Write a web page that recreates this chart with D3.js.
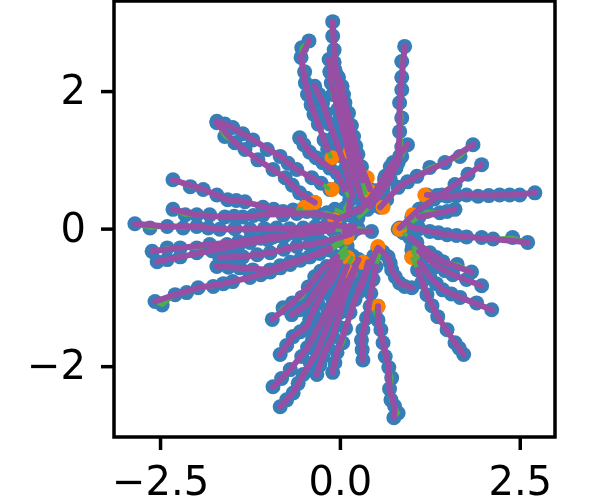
<!DOCTYPE html>
<html>
<head>
<meta charset="utf-8">
<script src="https://cdn.jsdelivr.net/npm/d3@7"></script>
<style>
  html, body { margin: 0; padding: 0; background: #fff; }
  #wrapper { width: 598px; height: 501px; filter: blur(0.7px); overflow: hidden; }
  svg { display: block; }
  text { font-family: "DejaVu Sans", sans-serif; }
</style>
</head>
<body>
<div id="wrapper"></div>
<script>
const xTicks = [-2.5, 0, 2.5]
const yTicks = [-2, 0, 2]

// where the trajectories start
const starts = [
    [-0.11, 0.57], [-0.35, 0.38], [-0.49, 0.31], [-0.07, 0.13], [0.10, -0.13], [0.11, -0.42],
    [0.32, -0.49], [0.53, -0.26], [0.38, 0.74], [0.14, 1.11], [-0.11, 1.03], [1.18, 0.49],
    [1.01, 0.20], [0.83, -0.01], [1.0, -0.42], [0.60, 0.31], [0.42, 0.54], [0.14, -0.63],
    [0.53, -1.13],
]

// one list per arm, outer tip first
const arms = [
    [[-0.10,3.01],[-0.10,2.80],[-0.08,2.60],[-0.08,2.42],[-0.05,2.24],[-0.03,2.02],[0.03,1.80],[0.06,1.60],[0.11,1.42],[0.14,1.22],[0.19,1.04],[0.25,0.88],[0.31,0.70],[0.36,0.49]],
    [[-0.43,2.73],[-0.53,2.63],[-0.54,2.49],[-0.49,2.28],[-0.48,2.12],[-0.45,1.95],[-0.40,1.80],[-0.36,1.66],[-0.30,1.52],[-0.22,1.29],[-0.17,1.15],[-0.12,1.02]],
    [[-0.35,2.07],[-0.29,1.95],[-0.24,1.83],[-0.20,1.68],[-0.14,1.52],[-0.07,1.35],[-0.03,1.20],[0.03,1.05],[0.08,0.88],[0.13,0.68],[0.17,0.49]],
    [[-0.15,2.46],[-0.14,2.28],[-0.12,2.12],[-0.10,1.95],[-0.03,1.73],[0,1.60],[0.04,1.45],[0.08,1.28],[0.12,1.10],[0.14,0.93],[0.21,0.71],[0.26,0.55],[0.31,0.42]],
    [[-0.07,2.31],[-0.02,2.20],[0.03,2.07],[0.05,1.95],[0.07,1.83],[0.12,1.68],[0.16,1.50],[0.19,1.34],[0.22,1.20],[0.25,1.08],[0.30,0.90],[0.36,0.72],[0.42,0.57]],
    [[-0.56,1.32],[-0.50,1.22],[-0.42,1.11],[-0.33,1.03],[-0.24,0.96],[-0.14,0.88],[-0.04,0.81],[0.02,0.68],[0.07,0.57],[0.14,0.42]],
    [[-1.71,1.56],[-1.60,1.52],[-1.49,1.47],[-1.35,1.38],[-1.21,1.29],[-1.01,1.15],[-0.83,1.05],[-0.72,0.95],[-0.60,0.86],[-0.39,0.74],[-0.26,0.66],[-0.14,0.57]],
    [[-1.71,1.54],[-1.60,1.34],[-1.46,1.25],[-1.32,1.15],[-1.14,1.00],[-0.93,0.86],[-0.76,0.74],[-0.66,0.63],[-0.56,0.52],[-0.46,0.44],[-0.35,0.38]],
    [[-2.32,0.71],[-2.08,0.61],[-1.90,0.57],[-1.71,0.49],[-1.56,0.42],[-1.44,0.41],[-1.32,0.39],[-1.07,0.31],[-0.92,0.28],[-0.79,0.25],[-0.65,0.27],[-0.51,0.29]],
    [[-2.32,0.28],[-2.15,0.20],[-1.99,0.20],[-1.81,0.20],[-1.60,0.17],[-1.47,0.18],[-1.35,0.17],[-1.20,0.19],[-1.07,0.20],[-0.79,0.20],[-0.60,0.22],[-0.46,0.25],[-0.32,0.22],[-0.18,0.23],[0,0.15]],
    [[-2.85,0.07],[-2.64,0.01],[-2.40,0.03],[-2.18,0.01],[-1.99,0.03],[-1.83,0.01],[-1.67,-0.01],[-1.46,0],[-1.25,-0.01],[-1.05,0],[-0.88,0.01],[-0.70,0],[-0.51,0.01],[-0.34,0.03],[-0.18,0.06],[0,0.04],[0.2,0.02]],
    [[-2.61,-0.33],[-2.40,-0.28],[-2.22,-0.28],[-1.99,-0.28],[-1.81,-0.23],[-1.57,-0.23],[-1.41,-0.19],[-1.25,-0.16],[-1.10,-0.14],[-0.93,-0.12],[-0.76,-0.10],[-0.60,-0.09],[-0.45,-0.07],[-0.32,-0.06],[-0.1,-0.02],[0.2,-0.02]],
    [[-2.54,-0.48],[-2.40,-0.45],[-2.22,-0.41],[-1.99,-0.35],[-1.78,-0.32],[-1.57,-0.28],[-1.41,-0.24],[-1.25,-0.20],[-1.0,-0.16],[-0.79,-0.12],[-0.55,-0.07],[-0.32,-0.01],[-0.1,0.02]],
    [[-1.71,-0.55],[-1.55,-0.56],[-1.39,-0.57],[-1.21,-0.60],[-0.97,-0.60],[-0.83,-0.54],[-0.69,-0.49],[-0.55,-0.45],[-0.42,-0.41],[-0.28,-0.36],[-0.14,-0.31],[0.05,-0.2]],
    [[-1.67,-0.42],[-1.5,-0.42],[-1.35,-0.41],[-1.15,-0.38],[-0.97,-0.35],[-0.78,-0.30],[-0.60,-0.26],[-0.42,-0.23],[-0.24,-0.20],[-0.05,-0.12],[0.15,-0.08]],
    [[-2.57,-1.06],[-2.47,-1.11],[-2.29,-0.96],[-2.13,-0.93],[-1.97,-0.86],[-1.76,-0.84],[-1.62,-0.80],[-1.49,-0.77],[-1.25,-0.71],[-1.1,-0.67],[-0.97,-0.63],[-0.83,-0.57],[-0.69,-0.52],[-0.55,-0.46],[-0.42,-0.41],[-0.28,-0.34],[-0.14,-0.28],[0.05,-0.15]],
    [[-0.94,-1.32],[-0.79,-1.15],[-0.66,-1.08],[-0.53,-1.00],[-0.44,-0.85],[-0.35,-0.70],[-0.27,-0.62],[-0.18,-0.55],[-0.04,-0.41],[0.1,-0.25]],
    [[-0.67,-1.25],[-0.56,-1.18],[-0.46,-1.11],[-0.39,-1.0],[-0.32,-0.89],[-0.25,-0.80],[-0.18,-0.70],[-0.11,-0.60],[-0.04,-0.49],[0.1,-0.3]],
    [[-0.83,-1.83],[-0.74,-1.70],[-0.65,-1.57],[-0.55,-1.50],[-0.46,-1.43],[-0.42,-1.32],[-0.38,-1.22],[-0.31,-1.08],[-0.24,-0.93],[-0.17,-0.84],[-0.10,-0.74],[-0.05,-0.62],[0,-0.49],[0.12,-0.35]],
    [[-0.93,-2.30],[-0.81,-2.18],[-0.69,-2.05],[-0.53,-1.86],[-0.45,-1.73],[-0.38,-1.61],[-0.31,-1.46],[-0.24,-1.32],[-0.17,-1.18],[-0.10,-1.03],[-0.03,-0.87],[0.04,-0.70],[0.1,-0.55],[0.18,-0.4]],
    [[-0.83,-2.59],[-0.74,-2.49],[-0.65,-2.39],[-0.58,-2.25],[-0.51,-2.12],[-0.41,-1.96],[-0.32,-1.80],[-0.25,-1.62],[-0.18,-1.43],[-0.11,-1.25],[-0.04,-1.08],[0.03,-0.93],[0.10,-0.79],[0.18,-0.62],[0.26,-0.45]],
    [[-0.32,-2.12],[-0.28,-1.99],[-0.24,-1.86],[-0.17,-1.71],[-0.10,-1.57],[-0.05,-1.40],[0,-1.22],[0.05,-1.05],[0.09,-0.90],[0.14,-0.74],[0.22,-0.58]],
    [[-0.10,-2.09],[-0.07,-1.95],[-0.04,-1.80],[0.04,-1.66],[0.08,-1.45],[0.14,-1.22],[0.21,-1.03],[0.26,-0.92],[0.32,-0.79],[0.36,-0.64],[0.39,-0.49]],
    [[0.32,-1.91],[0.31,-1.76],[0.30,-1.62],[0.32,-1.47],[0.37,-1.30],[0.42,-1.13],[0.43,-0.94],[0.46,-0.74],[0.50,-0.55],[0.56,-0.35]],
    [[0.75,-2.75],[0.81,-2.68],[0.76,-2.58],[0.71,-2.49],[0.69,-2.33],[0.72,-2.17],[0.68,-2.02],[0.63,-1.86],[0.60,-1.66],[0.57,-1.47],[0.53,-1.33],[0.49,-1.21],[0.53,-1.13]],
    [[1.0,-0.86],[0.90,-0.84],[0.83,-0.79],[0.77,-0.70],[0.72,-0.60],[0.70,-0.50],[0.67,-0.41],[0.60,-0.34],[0.53,-0.28]],
    [[1.72,-1.83],[1.66,-1.74],[1.60,-1.66],[1.49,-1.47],[1.36,-1.28],[1.28,-1.12],[1.21,-0.96],[1.14,-0.78],[1.08,-0.60],[1.0,-0.41]],
    [[2.11,-1.18],[1.90,-1.08],[1.67,-1.0],[1.55,-0.95],[1.43,-0.89],[1.34,-0.80],[1.25,-0.70],[1.18,-0.60],[1.11,-0.49],[1.0,-0.31]],
    [[1.97,-0.83],[1.76,-0.74],[1.57,-0.67],[1.46,-0.61],[1.35,-0.55],[1.18,-0.41],[1.10,-0.33],[1.01,-0.26]],
    [[1.83,-0.63],[1.63,-0.52],[1.43,-0.48],[1.34,-0.42],[1.25,-0.35],[1.07,-0.20],[0.97,-0.13],[0.88,-0.06]],
    [[2.61,-0.20],[2.40,-0.13],[2.13,-0.15],[1.97,-0.13],[1.76,-0.12],[1.62,-0.10],[1.49,-0.09],[1.37,-0.06],[1.25,-0.04],[1.1,0],[0.97,0.03],[0.81,-0.01]],
    [[2.71,0.52],[2.50,0.49],[2.36,0.49],[2.22,0.49],[2.07,0.48],[1.92,0.47],[1.76,0.49],[1.62,0.48],[1.49,0.47],[1.35,0.48],[1.21,0.49]],
    [[1.97,0.93],[1.78,0.79],[1.60,0.64],[1.42,0.49],[1.31,0.43],[1.21,0.38],[1.10,0.28],[1.0,0.17],[0.83,0.01]],
    [[1.60,0.28],[1.49,0.25],[1.39,0.23],[1.21,0.25],[1.10,0.17],[1.0,0.09]],
    [[1.85,1.22],[1.67,1.05],[1.46,0.96],[1.25,0.89],[1.07,0.76],[0.94,0.68],[0.81,0.60],[0.65,0.42],[0.56,0.31]],
    [[0.90,2.65],[0.86,2.43],[0.86,2.20],[0.86,2.02],[0.83,1.83],[0.86,1.61],[0.83,1.41],[0.86,1.19],[0.81,0.96],[0.67,0.76],[0.58,0.57],[0.50,0.44],[0.42,0.32],[0.25,0.15]],
    [[0.94,1.22],[0.86,1.05],[0.74,0.96],[0.63,0.76],[0.51,0.54],[0.42,0.42],[0.32,0.31],[0.14,0.23],[-0.05,0.12]],
    [[0.83,1.05],[0.78,0.88],[0.70,0.72],[0.60,0.58],[0.50,0.42],[0.38,0.28]],
    [[0.70,0.90],[0.62,0.72],[0.50,0.55],[0.40,0.40],[0.28,0.25]],
    [[0.44,-0.04],[0.25,0.01],[0.07,-0.04]],
    [[0.14,0.42],[0.07,0.30],[0.12,0.20],[-0.07,0.28]],
    [[0.53,-0.28],[0.47,-0.40],[0.40,-0.55],[0.33,-0.72],[0.25,-0.90]],
]

function drawChart() {
    let dimensions = {
        width: 598,
        height: 501,
        margin: { top: 1, right: 43, bottom: 64, left: 114 },
    }
    dimensions.boundedWidth = dimensions.width
        - dimensions.margin.left
        - dimensions.margin.right
    dimensions.boundedHeight = dimensions.height
        - dimensions.margin.top
        - dimensions.margin.bottom

    const wrapper = d3.select("#wrapper")
        .append("svg")
        .attr("width", dimensions.width)
        .attr("height", dimensions.height)

    const bounds = wrapper.append("g")
        .attr("transform", `translate(${dimensions.margin.left},${dimensions.margin.top})`)

    const xScaler = d3.scaleLinear()
        .domain([-3.14, 2.99])
        .range([0, dimensions.boundedWidth])

    const yScaler = d3.scaleLinear()
        .domain([-3.03, 3.31])
        .range([dimensions.boundedHeight, 0])

    const lineGen = d3.line()
        .x(d => xScaler(d[0]))
        .y(d => yScaler(d[1]))

    // blue dots, then orange starts, then green and purple lines
    bounds.append("g")
        .selectAll("circle")
        .data(arms.flat())
        .join("circle")
        .attr("cx", d => xScaler(d[0]))
        .attr("cy", d => yScaler(d[1]))
        .attr("r", 7.5)
        .attr("fill", "#377eb8")

    bounds.append("g")
        .selectAll("circle")
        .data(starts)
        .join("circle")
        .attr("cx", d => xScaler(d[0]))
        .attr("cy", d => yScaler(d[1]))
        .attr("r", 7.5)
        .attr("fill", "#ff7f00")

    bounds.append("g")
        .selectAll("path")
        .data(arms)
        .join("path")
        .attr("d", lineGen)
        .attr("fill", "none")
        .attr("stroke", "#4daf4a")
        .attr("stroke-width", 4)
        .attr("stroke-linejoin", "round")

    // purple skips every second point so the green shows at the kinks
    bounds.append("g")
        .selectAll("path")
        .data(arms.map(arm => arm.filter((d, i) => i % 2 == 0)))
        .join("path")
        .attr("d", lineGen)
        .attr("fill", "none")
        .attr("stroke", "#984ea3")
        .attr("stroke-width", 6)
        .attr("stroke-linecap", "round")
        .attr("stroke-linejoin", "round")

    const xAxisGen = d3.axisBottom(xScaler)
        .tickValues(xTicks)
        .tickFormat(d3.format(".1f"))
        .tickSize(13)
        .tickPadding(17)
        .tickSizeOuter(0)
    const yAxisGen = d3.axisLeft(yScaler)
        .tickValues(yTicks)
        .tickFormat(d3.format("d"))
        .tickSize(13)
        .tickPadding(15)
        .tickSizeOuter(0)

    const xAxis = bounds.append("g")
        .attr("transform", `translate(0,${dimensions.boundedHeight})`)
        .call(xAxisGen)
    const yAxis = bounds.append("g")
        .call(yAxisGen)

    bounds.selectAll(".domain").remove()
    bounds.selectAll(".tick line").attr("stroke", "#000").attr("stroke-width", 3.5)
    bounds.selectAll(".tick text").attr("fill", "#000").style("font-size", "40px")
        .attr("font-family", "DejaVu Sans")

    bounds.append("rect")
        .attr("width", dimensions.boundedWidth)
        .attr("height", dimensions.boundedHeight)
        .attr("fill", "none")
        .attr("stroke", "#000")
        .attr("stroke-width", 3.5)
}

drawChart()
</script>
</body>
</html>
